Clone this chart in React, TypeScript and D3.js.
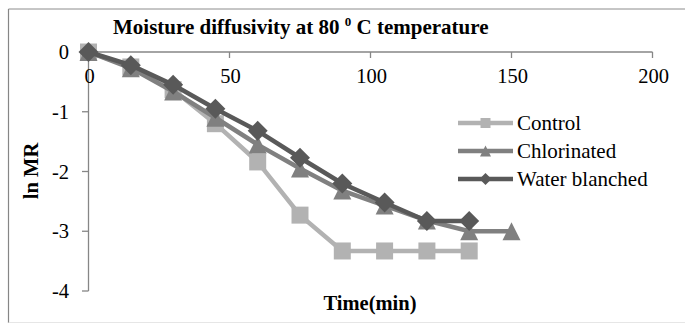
import React from 'react';
import * as d3 from 'd3';

// time points (min)
const times = [0, 15, 30, 45, 60, 75, 90, 105, 120, 135, 150];
const controlLnMR = [0, -0.25, -0.63, -1.2, -1.84, -2.73, -3.33, -3.33, -3.33, -3.33];
const chlorinatedLnMR = [0, -0.27, -0.66, -1.1, -1.55, -1.95, -2.32, -2.57, -2.82, -3.0, -3.0];
const waterBlanchedLnMR = [0, -0.22, -0.55, -0.95, -1.32, -1.77, -2.2, -2.52, -2.83, -2.83];
const xTicks = [0, 50, 100, 150, 200];
const yTicks = [0, -1, -2, -3, -4];

const seriesNames = ['Control', 'Chlorinated', 'Water blanched'];
const seriesColors = ['#b2b2b2', '#808080', '#595959'];
const seriesShapes = ['square', 'triangle', 'diamond'];

const W = 685;
const H = 325;
const font = '"Liberation Serif", "Times New Roman", serif';

const App = () => {
  const x = d3.scaleLinear().domain([0, 200]).range([88.5, 652.5]);
  const y = d3.scaleLinear().domain([0, -4]).range([52, 291]);

  const allSeries = [controlLnMR, chlorinatedLnMR, waterBlanchedLnMR];

  const line = d3.line<number>()
    .x((d, i) => x(times[i]))
    .y(d => y(d));

  // excel-like markers, s = full width
  const marker = (shape: string, cx: number, cy: number, color: string, key: string, s: number) => {
    const h = s / 2;
    let d = '';
    if (shape === 'square') d = `M${-h},${-h}H${h}V${h}H${-h}Z`;
    else if (shape === 'triangle') d = `M0,${-h}L${h},${h}L${-h},${h}Z`;
    else d = `M0,${-h}L${h},0L0,${h}L${-h},0Z`;
    return <path key={key} d={d} transform={`translate(${cx},${cy})`} fill={color} />;
  };

  const sizes = [17, 18, 20];
  const legendSizes = [10, 11, 12];
  const legendY = [123, 151, 179];

  return (
    <svg width={W} height={H} style={{ position: 'absolute', left: 0, top: 0, background: '#fff' }}>
      {/* outer frame */}
      <line x1={8.5} y1={9} x2={685} y2={9} stroke="#8c8c8c" strokeWidth={1} />
      <line x1={8.5} y1={9} x2={8.5} y2={323} stroke="#868686" strokeWidth={1.2} />
      <line x1={8.5} y1={322.5} x2={685} y2={322.5} stroke="#e6e6e6" strokeWidth={1} />

      {/* title */}
      <text x={113} y={33.5} fontFamily={font} fontWeight="bold" fontSize={21}>
        Moisture diffusivity at 80 <tspan fontSize={13} dy={-8}>0</tspan><tspan dy={8}> C temperature</tspan>
      </text>

      {/* y axis */}
      <line x1={88.5} y1={52} x2={88.5} y2={291} stroke="#868686" strokeWidth={1.3} />
      {yTicks.map(t => (
        <g key={'y' + t}>
          <line x1={82} x2={88.5} y1={y(t)} y2={y(t)} stroke="#868686" strokeWidth={1.3} />
          <text x={69} y={y(t) + 7} textAnchor="end" fontFamily={font} fontSize={20.5}>{t === 0 ? '0' : `-${Math.abs(t)}`}</text>
        </g>
      ))}

      {/* x axis at 0 */}
      <line x1={88.5} y1={52} x2={652.5} y2={52} stroke="#868686" strokeWidth={1.3} />
      {xTicks.map(t => (
        <g key={'x' + t}>
          <line x1={x(t)} x2={x(t)} y1={52} y2={58} stroke="#868686" strokeWidth={1.3} />
          <text x={x(t) + 1} y={83} textAnchor="middle" fontFamily={font} fontSize={20.5}>{t}</text>
        </g>
      ))}

      {/* axis titles */}
      <text transform="translate(38,171) rotate(-90)" textAnchor="middle" fontFamily={font} fontWeight="bold" fontSize={20.5}>ln MR</text>
      <text x={370} y={310} textAnchor="middle" fontFamily={font} fontWeight="bold" fontSize={20.5}>Time(min)</text>

      {/* series */}
      {allSeries.map((s, si) => (
        <g key={'s' + si}>
          <path d={line(s) || ''} fill="none" stroke={seriesColors[si]} strokeWidth={4.5} />
          {s.map((v, i) => marker(seriesShapes[si], x(times[i]), y(v), seriesColors[si], `m${si}-${i}`, sizes[si]))}
        </g>
      ))}

      {/* legend */}
      {seriesNames.map((n, i) => (
        <g key={'l' + i}>
          <line x1={458} x2={513} y1={legendY[i]} y2={legendY[i]} stroke={seriesColors[i]} strokeWidth={4.5} />
          {marker(seriesShapes[i], 485.5, legendY[i], seriesColors[i], 'lm' + i, legendSizes[i])}
          <text x={517} y={legendY[i] + 7} fontFamily={font} fontSize={21}>{n}</text>
        </g>
      ))}
    </svg>
  );
};

export default App;
